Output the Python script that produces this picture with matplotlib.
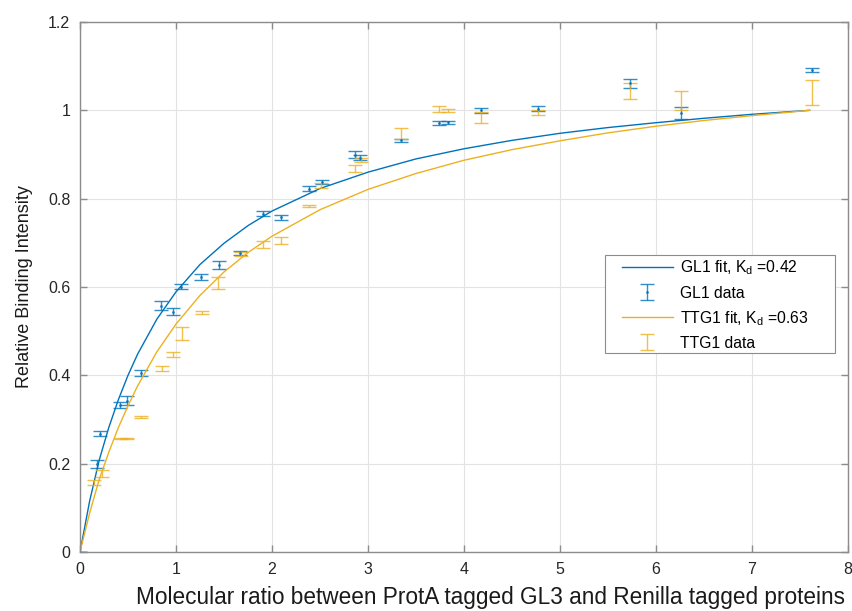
import matplotlib
matplotlib.use("Agg")
import matplotlib.pyplot as plt
from matplotlib.patches import Rectangle

plt.rcParams['font.family'] = ['Liberation Sans', 'DejaVu Sans']
plt.rcParams['mathtext.fontset'] = 'custom'
plt.rcParams['mathtext.rm'] = 'Liberation Sans'

BLUE = '#0072BD'
ORANGE = '#EDB120'

# GL1 data
gl1_x = [0, 0.174, 0.208, 0.417, 0.486, 0.635, 0.844, 0.965, 1.05, 1.26, 1.45, 1.667,
         1.91, 2.09, 2.39, 2.52, 2.865, 2.92, 3.34, 3.74, 3.83, 4.18, 4.77, 5.73, 6.26, 7.63]
gl1_y = [0, 0.199, 0.268, 0.332, 0.343, 0.406, 0.558, 0.544, 0.601, 0.622, 0.650, 0.677,
         0.766, 0.758, 0.823, 0.838, 0.900, 0.893, 0.932, 0.971, 0.973, 1.0, 1.004, 1.061, 0.994, 1.091]
gl1_err = [0, 0.009, 0.005, 0.007, 0.010, 0.007, 0.010, 0.008, 0.005, 0.007, 0.010, 0.004,
           0.005, 0.006, 0.006, 0.005, 0.009, 0.005, 0.004, 0.005, 0.003, 0.006, 0.006, 0.010, 0.013, 0.005]

# TTG1 data
ttg1_x = [0, 0.15, 0.226, 0.43, 0.49, 0.635, 0.85, 0.965, 1.06, 1.267, 1.44, 1.677,
          1.91, 2.09, 2.39, 2.51, 2.865, 2.93, 3.34, 3.74, 3.83, 4.18, 4.77, 5.73, 6.26, 7.63]
ttg1_y = [0, 0.157, 0.178, 0.257, 0.257, 0.306, 0.415, 0.447, 0.495, 0.543, 0.609, 0.675,
          0.696, 0.705, 0.783, 0.830, 0.868, 0.887, 0.947, 1.003, 1.0, 0.984, 0.995, 1.044, 1.022, 1.040]
ttg1_err = [0, 0.006, 0.008, 0.002, 0.002, 0.003, 0.006, 0.005, 0.015, 0.003, 0.014, 0.004,
            0.008, 0.008, 0.002, 0.006, 0.008, 0.004, 0.012, 0.007, 0.004, 0.013, 0.005, 0.019, 0.021, 0.028]

# Fit curves
fit_x = [0, 0.1, 0.2, 0.3, 0.4, 0.5, 0.6, 0.8, 1.0, 1.25, 1.5, 1.75, 2.0, 2.5, 3.0,
         3.5, 4.0, 4.5, 5.0, 5.5, 6.0, 6.5, 7.0, 7.6]
gl1_fit = [0, 0.115, 0.208, 0.282, 0.345, 0.400, 0.448, 0.527, 0.589, 0.651, 0.699, 0.739,
           0.772, 0.823, 0.860, 0.890, 0.913, 0.932, 0.948, 0.961, 0.972, 0.982, 0.991, 1.0]
ttg1_fit = [0, 0.088, 0.164, 0.226, 0.282, 0.331, 0.376, 0.453, 0.516, 0.581, 0.634, 0.678,
            0.715, 0.775, 0.821, 0.857, 0.887, 0.911, 0.931, 0.949, 0.964, 0.977, 0.988, 1.0]

x_ticks = [0, 1, 2, 3, 4, 5, 6, 7, 8]
y_ticks = [0, 0.2, 0.4, 0.6, 0.8, 1.0, 1.2]
y_tick_labels = ['0', '0.2', '0.4', '0.6', '0.8', '1', '1.2']
legend_labels = [r'GL1 fit, K$_\mathregular{d}$ =0.42', 'GL1 data',
                 r'TTG1 fit, K$_\mathregular{d}$ =0.63', 'TTG1 data']

fig = plt.figure(figsize=(8.53, 6.11), dpi=100)
ax = fig.add_axes([80/853, (611-552)/611, 768/853, 530/611])

l1, = ax.plot(fit_x, gl1_fit, color=BLUE, lw=1.0)
e1 = ax.errorbar(gl1_x, gl1_y, yerr=gl1_err, fmt='.', color=BLUE, ms=2,
                 elinewidth=1.0, capsize=5, capthick=1.0, alpha=0.8)
l2, = ax.plot(fit_x, ttg1_fit, color=ORANGE, lw=1.0)
e2 = ax.errorbar(ttg1_x, ttg1_y, yerr=ttg1_err, fmt='none', color=ORANGE,
                 elinewidth=1.0, capsize=5, capthick=1.0, alpha=0.8)

ax.set_xlim(0, 8)
ax.set_ylim(0, 1.2)
ax.set_xticks(x_ticks)
ax.set_yticks(y_ticks)
ax.set_yticklabels(y_tick_labels)
ax.grid(True, color='#e3e3e3', lw=0.8)
ax.set_axisbelow(True)
for s in ax.spines.values():
    s.set_color('#8c8c8c')
    s.set_linewidth(1.0)
ax.tick_params(direction='in', length=5, width=1, colors='#8c8c8c',
               labelcolor='#262626', labelsize=11.5, top=True, right=True, pad=7)

ax.set_xlabel('Molecular ratio between ProtA tagged GL3 and Renilla tagged proteins',
              fontsize=16.3, color='#1a1a1a', labelpad=7, x=0.534)
ax.set_ylabel('Relative Binding Intensity', fontsize=13, color='#1a1a1a', labelpad=11)

# legend frame
ax.add_patch(Rectangle((0.6836, 0.3755), 0.2995, 0.1849, transform=ax.transAxes,
                       facecolor='white', edgecolor='#8c8c8c', lw=0.8, zorder=4))
leg = ax.legend([l1, e1, l2, e2], legend_labels,
                loc='upper left', bbox_to_anchor=(0.7057, 0.5538), borderaxespad=0,
                borderpad=0, frameon=False,
                fontsize=11.3, handlelength=3.25, handletextpad=0.45, labelspacing=0.53)
leg.set_zorder(5)

fig.savefig('out.png', dpi=100)
